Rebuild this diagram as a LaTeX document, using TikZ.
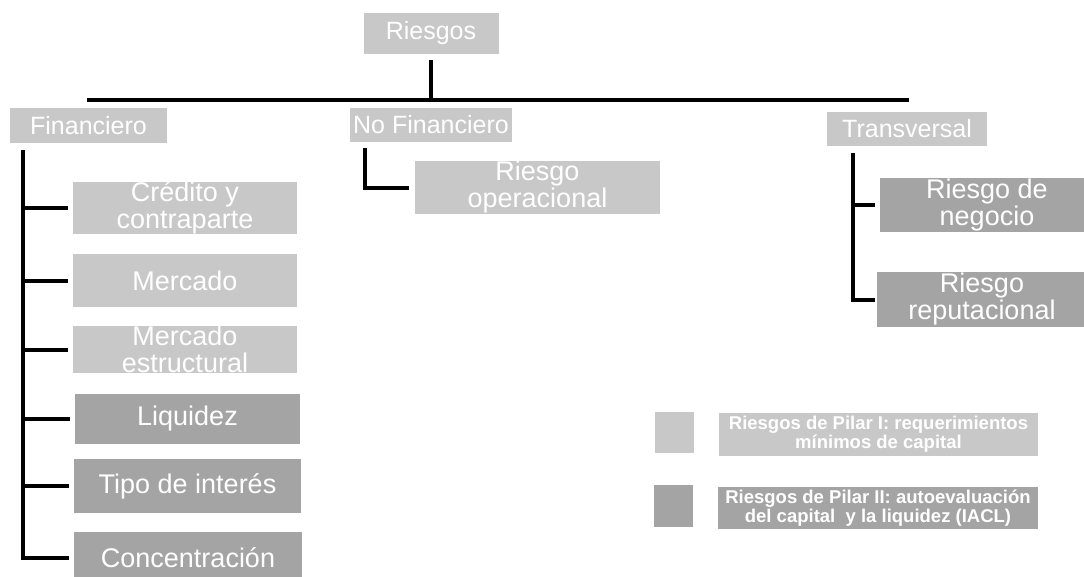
\documentclass[tikz,border=0pt]{standalone}
\usepackage{fontspec}
\setmainfont{Liberation Sans}
\usetikzlibrary{positioning}
\definecolor{pilarI}{RGB}{200,200,200}
\definecolor{pilarII}{RGB}{164,164,164}
\tikzset{
  caja/.style={inner sep=0pt, text=white, align=center, font=\fontsize{27}{27}\selectfont},
  luz/.style={caja, fill=pilarI},
  osc/.style={caja, fill=pilarII},
  cab/.style={luz, font=\fontsize{25}{26}\selectfont},
  conn/.style={line width=4pt},
  leyenda/.style={inner sep=0pt, text=white, align=center, font=\fontsize{18.5}{19}\selectfont\bfseries},
}
\begin{document}
\begin{tikzpicture}[x=1pt,y=-1pt]
	\useasboundingbox (0,0) rectangle (1084,576);
	
	% cabecera
	\node[cab, minimum width=135pt, minimum height=41pt] (riesgos) at (431,33.5) {Riesgos};
	\coordinate (barL) at (87,100);
	\coordinate (barR) at (909,100);
	\draw[conn] (barL) -- (barR);
	\draw[conn] ([yshift=-6pt]riesgos.south) -- (riesgos.south |- barL);
	
	\node[cab, minimum width=157pt, minimum height=35pt] (fin) at (88.5,125.5) {Financiero};
	\node[cab, minimum width=162pt, minimum height=34pt] (nofin) at (431,125) {No Financiero};
	\node[cab, minimum width=160pt, minimum height=34pt] (trans) at (907,129) {Transversal};
	
	% financiero
	\node[luz, minimum width=224pt, minimum height=50pt] (cred) at (185,208) {Crédito y\\contraparte};
	\node[luz, minimum width=224pt, minimum height=53pt] (merc) at (185,280.5) {Mercado};
	\node[luz, minimum width=224pt, minimum height=47pt] (mest) at (185,349.5) {Mercado\\estructural};
	\node[osc, minimum width=225pt, minimum height=50pt] (liq) at (187.5,419) {Liquidez};
	\node[osc, minimum width=227pt, minimum height=54pt] (tipo) at (187.5,486) {Tipo de interés};
	\node[osc, minimum width=228pt, minimum height=52pt] (conc) at (188,558) {Concentración};
	
	\coordinate (finbus) at ([xshift=13pt,yshift=-7pt]fin.south west);
	\draw[conn] (finbus) |- ([xshift=-5pt]conc.west);
	\foreach \n in {cred,merc,mest,liq,tipo}
		\draw[conn] (finbus |- \n.west) -- ([xshift=-5pt]\n.west);
	
	% no financiero
	\node[luz, minimum width=245pt, minimum height=51pt] (oper) at (537.5,187.5) {Riesgo\\operacional};
	\coordinate (nofbus) at ([xshift=15pt,yshift=-6pt]nofin.south west);
	\draw[conn] (nofbus) |- ([xshift=-6pt]oper.west);
	
	% transversal
	\node[osc, minimum width=214pt, minimum height=54pt] (neg) at (987,205) {Riesgo de\\negocio};
	\node[osc, minimum width=210pt, minimum height=55pt] (rep) at (982,299.5) {Riesgo\\reputacional};
	\coordinate (trbus) at ([xshift=26pt,yshift=-7pt]trans.south west);
	\draw[conn] (trbus) |- ([xshift=-2pt]rep.west);
	\draw[conn] (trbus |- neg.west) -- ([xshift=-5pt]neg.west);
	
	% leyenda
	\node[fill=pilarI, minimum width=39pt, minimum height=41pt, inner sep=0pt] (sqI) at (674,432.5) {};
	\node[leyenda, fill=pilarI, minimum width=319pt, minimum height=43pt] (pilI) at (878.5,434.5) {Riesgos de Pilar I: requerimientos\\mínimos de capital};
	\node[fill=pilarII, minimum width=39pt, minimum height=42pt, inner sep=0pt] (sqII) at (673.5,506) {};
	\node[leyenda, fill=pilarII, minimum width=320pt, minimum height=42pt] (pilII) at (878,508) {Riesgos de Pilar II: autoevaluación\\del capital\ \ y la liquidez (IACL)};
	
\end{tikzpicture}
\end{document}
